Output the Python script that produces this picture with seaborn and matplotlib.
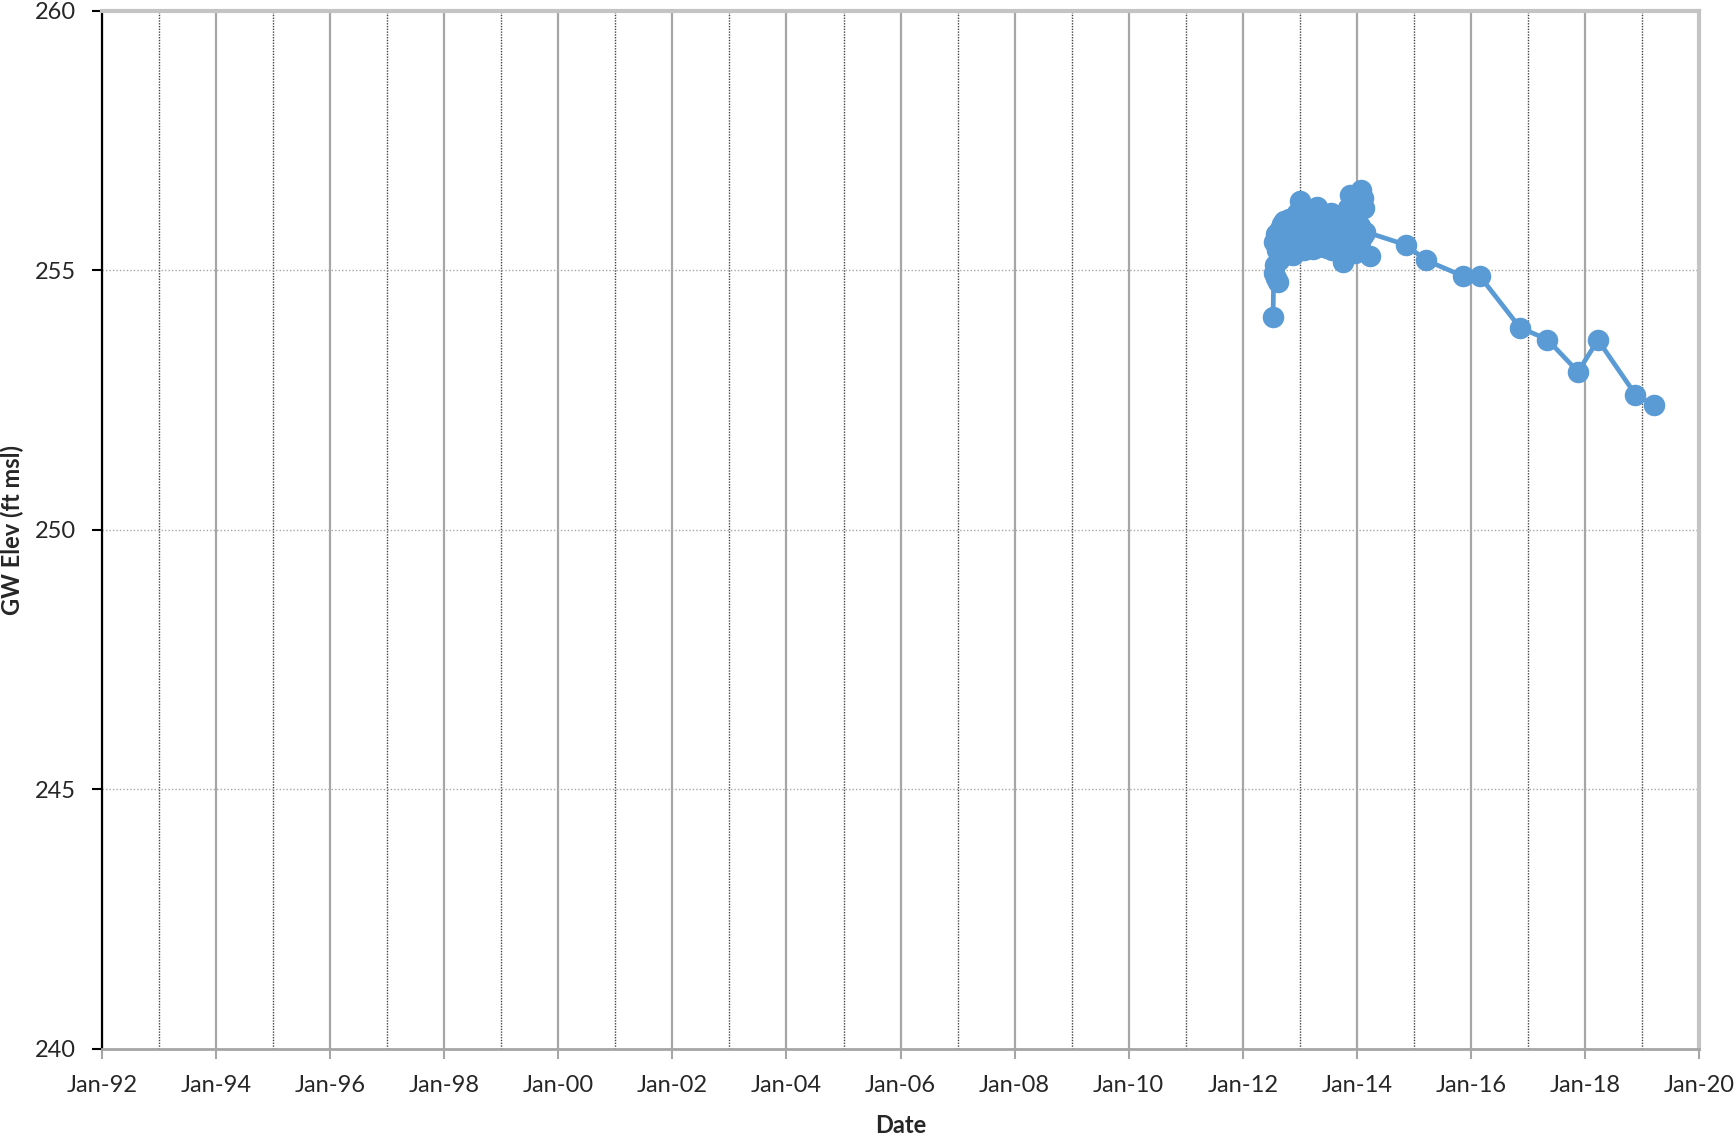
import matplotlib
matplotlib.use("Agg")
import matplotlib.pyplot as plt
import matplotlib.dates as mdates
import pandas as pd
import seaborn as sns

# Groundwater elevation record (ft msl)
dates = [
    "2012-07-13", "2012-07-18", "2012-07-22", "2012-07-26", "2012-07-30",
    "2012-08-03", "2012-08-07", "2012-08-11", "2012-08-15", "2012-08-20",
    "2012-08-25", "2012-08-30", "2012-09-06", "2012-09-13", "2012-09-20",
    "2012-09-28", "2012-10-06", "2012-10-14", "2012-10-22", "2012-10-30",
    "2012-11-08", "2012-11-17", "2012-11-26", "2012-12-05", "2012-12-14",
    "2012-12-23", "2013-01-01", "2013-01-10", "2013-01-19", "2013-01-28",
    "2013-02-06", "2013-02-15", "2013-02-24", "2013-03-05", "2013-03-14",
    "2013-03-23", "2013-04-01", "2013-04-10", "2013-04-19", "2013-04-28",
    "2013-05-07", "2013-05-16", "2013-05-25", "2013-06-03", "2013-06-12",
    "2013-06-21", "2013-06-30", "2013-07-09", "2013-07-18", "2013-07-27",
    "2013-08-05", "2013-08-14", "2013-08-23", "2013-09-01", "2013-09-10",
    "2013-09-19", "2013-09-28", "2013-10-07", "2013-10-16", "2013-10-25",
    "2013-11-03", "2013-11-12", "2013-11-21", "2013-11-30", "2013-12-09",
    "2013-12-18", "2013-12-27", "2014-01-05", "2014-01-14", "2014-01-23",
    "2014-01-30", "2014-02-05", "2014-02-10", "2014-02-14", "2014-02-18",
    "2014-03-24", "2014-02-21",
    "2014-11-14", "2015-03-17", "2015-11-14", "2016-02-28", "2016-11-10",
    "2017-05-05", "2017-11-17", "2018-03-25", "2018-11-20", "2019-03-21",
]
elev = [
    254.11, 254.95, 255.55, 255.10, 255.70,
    254.85, 255.40, 254.78, 255.65, 255.20,
    255.80, 255.35, 255.90, 255.45, 255.95,
    255.30, 255.85, 255.40, 256.00, 255.35,
    255.75, 255.30, 255.90, 255.45, 256.10,
    255.50, 256.33, 255.60, 256.20, 255.40,
    256.15, 255.45, 256.05, 255.50, 256.15,
    255.42, 256.00, 255.55, 256.23, 255.46,
    256.10, 255.60, 256.05, 255.50, 256.00,
    255.43, 255.95, 255.55, 256.10, 255.40,
    255.90, 255.50, 256.05, 255.60, 255.90,
    255.35, 255.75, 255.17, 255.70, 255.45,
    256.20, 255.40, 256.45, 255.60, 256.35,
    255.33, 256.30, 255.75, 256.50, 255.85,
    256.55, 255.65, 256.40, 255.70, 256.20,
    255.28, 255.75,
    255.49, 255.20, 254.89, 254.89, 253.90,
    253.67, 253.05, 253.66, 252.61, 252.41,
]

df = pd.DataFrame({"Date": pd.to_datetime(dates), "GW Elev": elev})

sns.set_style("white")
plt.rcParams["font.family"] = ["Lato", "DejaVu Sans"]

W, H = 1736, 1138
fig = plt.figure(figsize=(W / 100, H / 100), dpi=100)
ax = fig.add_axes([102 / W, (H - 1049) / H, 1597 / W, 1038 / H])

sns.lineplot(
    data=df, x="Date", y="GW Elev", sort=False, ax=ax,
    color="#5B9BD5", linewidth=3.4, marker="o", markersize=15.5,
    markeredgewidth=0, zorder=5,
)

ax.set_xlim(pd.Timestamp("1992-01-01"), pd.Timestamp("2020-01-01"))
ax.set_ylim(240, 260)
ax.set_yticks([240, 245, 250, 255, 260])

ax.xaxis.set_major_locator(mdates.YearLocator(2))
ax.xaxis.set_minor_locator(mdates.YearLocator(1))
ax.xaxis.set_major_formatter(mdates.DateFormatter("%b-%y"))

# grid: solid major verticals, dotted minor verticals, dotted horizontals
ax.grid(False)
ax.xaxis.grid(True, which="major", color="#a6a6a6", linestyle="-", linewidth=1.6)
ax.xaxis.grid(True, which="minor", color="#444444", linestyle=(0, (1, 1)), linewidth=1.0)
ax.yaxis.grid(True, which="major", color="#a6a6a6", linestyle=(0, (1, 1.5)), linewidth=1.0)
ax.set_axisbelow(True)

ax.tick_params(axis="x", which="major", length=7, width=1.5, color="#a6a6a6",
               labelsize=17, pad=12, direction="out", bottom=True)
ax.tick_params(axis="x", which="minor", length=0)
ax.tick_params(axis="y", which="major", length=7, width=1.5, color="black",
               labelsize=17, pad=12, direction="out", left=True)

for side in ["top", "right"]:
    ax.spines[side].set_color("#c4c4c4")
    ax.spines[side].set_linewidth(3)
ax.spines["bottom"].set_color("#a6a6a6")
ax.spines["bottom"].set_linewidth(2)
ax.spines["left"].set_color("black")
ax.spines["left"].set_linewidth(1.6)

ax.set_xlabel("Date", fontsize=17, fontweight="bold")
ax.set_ylabel("GW Elev (ft msl)", fontsize=17, fontweight="bold")
ax.xaxis.set_label_coords(0.5, -0.063)
ax.yaxis.set_label_coords(-0.049, 0.5)
ax.xaxis.label.set_va("top")
ax.yaxis.label.set_va("bottom")

fig.savefig("out.png", dpi=100)
